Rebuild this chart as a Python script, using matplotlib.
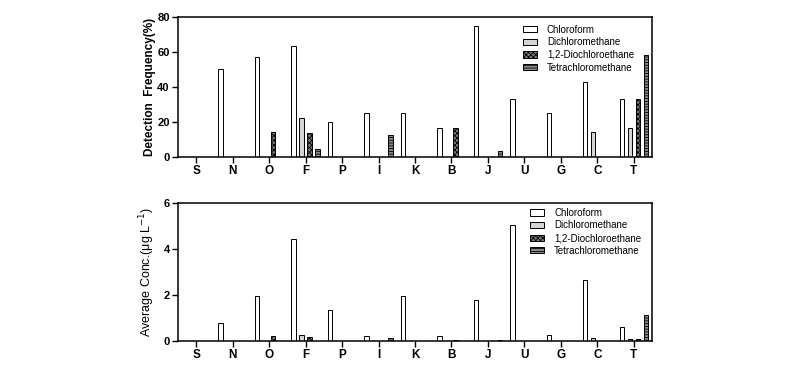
import matplotlib
matplotlib.use("Agg")
import matplotlib.pyplot as plt
import numpy as np

plt.rcParams['font.family'] = ['Liberation Sans', 'DejaVu Sans']
plt.rcParams['hatch.linewidth'] = 0.6

sites = ["S", "N", "O", "F", "P", "I", "K", "B", "J", "U", "G", "C", "T"]
series_names = ["Chloroform", "Dichloromethane", "1,2-Diochloroethane", "Tetrachloromethane"]

freq_chloroform = [0, 50, 57, 63.5, 20, 25, 25, 16.7, 75, 33.3, 25, 43, 33.3]
freq_dichloromethane = [0, 0, 0, 22.5, 0, 0, 0, 0, 0, 0, 0, 14.3, 16.7]
freq_dce = [0, 0, 14.3, 13.5, 0, 0, 0, 16.7, 0, 0, 0, 0, 33.3]
freq_tetra = [0, 0, 0, 4.5, 0, 12.3, 0, 0, 3.3, 0, 0, 0, 58.3]

conc_chloroform = [0, 0.77, 1.97, 4.43, 1.35, 0.2, 1.97, 0.23, 1.8, 5.05, 0.25, 2.65, 0.6]
conc_dichloromethane = [0, 0, 0, 0.27, 0, 0, 0, 0, 0, 0, 0, 0.15, 0.08]
conc_dce = [0, 0, 0.2, 0.17, 0, 0, 0, 0.03, 0, 0, 0, 0, 0.1]
conc_tetra = [0, 0, 0, 0, 0, 0.12, 0, 0, 0.03, 0, 0, 0, 1.15]

styles = [
    dict(facecolor="white", hatch=None),
    dict(facecolor="#d4d4d4", hatch=None),
    dict(facecolor="#7a7a7a", hatch="xxxxxxx"),
    dict(facecolor="#8a8a8a", hatch="------"),
]

fig = plt.figure(figsize=(8, 3.67), dpi=100)
ax1 = fig.add_axes([0.2225, 0.5722, 0.5925, 0.3815])
ax2 = fig.add_axes([0.2225, 0.0708, 0.5925, 0.376])

x = np.arange(len(sites))
step = 0.22
width = 0.12


def draw(ax, data, ylim, yticks, ylabel, bold_label, leg_x, leg_y, label_x):
    for i, (vals, st) in enumerate(zip(data, styles)):
        ax.bar(x + (i - 1.5) * step, vals, width=width, facecolor=st["facecolor"],
               edgecolor="black", linewidth=0.7, hatch=st["hatch"], label=series_names[i])
    ax.set_xlim(-0.5, len(sites) - 0.5)
    ax.set_ylim(*ylim)
    ax.set_yticks(yticks)
    ax.set_xticks(x)
    ax.set_xticklabels(sites, fontsize=8.5, fontweight="bold")
    for lab in ax.get_yticklabels():
        lab.set_fontweight("bold")
        lab.set_fontsize(8)
    ax.tick_params(direction="out", length=4, width=1.0, pad=2)
    for s in ax.spines.values():
        s.set_linewidth(1.1)
    ax.set_ylabel(ylabel, fontsize=8.5 if bold_label else 9,
                  fontweight="bold" if bold_label else "normal")
    ax.yaxis.set_label_coords(label_x, 0.5)
    ax.legend(loc="upper left", bbox_to_anchor=(leg_x, leg_y), frameon=False,
              fontsize=7, borderaxespad=0, borderpad=0, labelspacing=0.27,
              handlelength=1.45, handleheight=0.6, handletextpad=1.0)


draw(ax1, [freq_chloroform, freq_dichloromethane, freq_dce, freq_tetra],
     (0, 80), [0, 20, 40, 60, 80], "Detection  Frequency(%)", True, 0.728, 0.945, -0.046)
draw(ax2, [conc_chloroform, conc_dichloromethane, conc_dce, conc_tetra],
     (0, 6), [0, 2, 4, 6], "Average Conc.(\u03bcg L$^{-1}$)", False, 0.743, 0.965, -0.044)

fig.savefig("out.png", dpi=100)
